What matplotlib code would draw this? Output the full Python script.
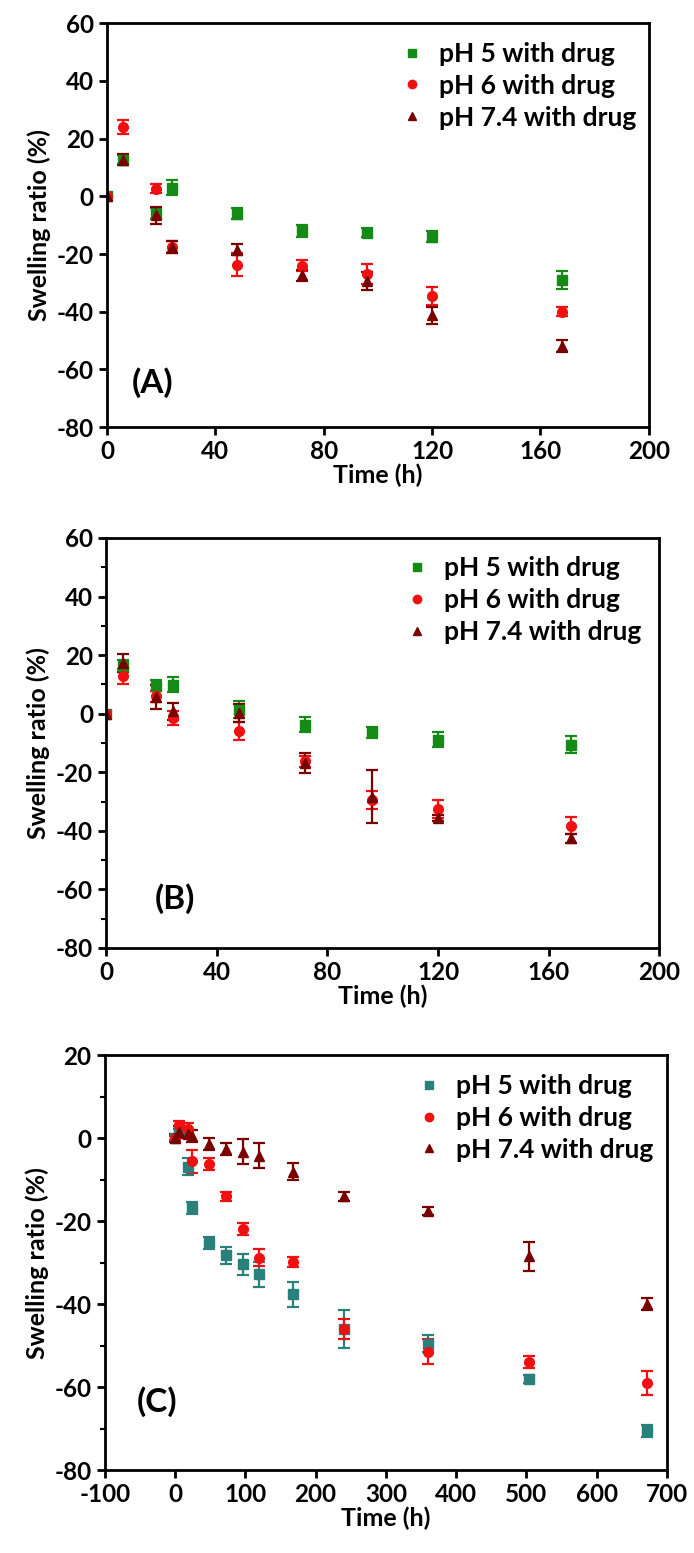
import matplotlib
matplotlib.use("Agg")
import matplotlib.pyplot as plt
from matplotlib.lines import Line2D
from matplotlib.ticker import MultipleLocator

plt.rcParams['font.family'] = ['Lato', 'DejaVu Sans']
plt.rcParams['font.weight'] = 'bold'
plt.rcParams['axes.unicode_minus'] = False

labels = ["pH 5 with drug", "pH 6 with drug", "pH 7.4 with drug"]

# Panel A
t_a = [0, 6, 18, 24, 48, 72, 96, 120, 168]
a_ph5 = [0, 12.7, -6, 3, -6, -12, -12.6, -14, -29]
a_ph5_err = [0.5, 1.5, 2, 2.5, 2, 2, 1.5, 2, 3]
a_ph6 = [0, 24, 2.7, -17.5, -23.7, -24, -26.8, -34.6, -40]
a_ph6_err = [0.5, 2.5, 1.5, 2, 4, 2, 3.5, 3, 1.5]
a_ph74 = [0, 12.7, -6.6, -17.5, -18.5, -27.4, -29.4, -41.2, -51.8]
a_ph74_err = [0.5, 2, 3, 2, 2, 2, 3, 3, 2]

# Panel B
t_b = [0, 6, 18, 24, 48, 72, 96, 120, 168]
b_ph5 = [0, 16.2, 9.6, 9.9, 1.4, -3.8, -6.4, -8.9, -10.6]
b_ph5_err = [0.5, 2, 2, 2.5, 3, 2.5, 2, 2.5, 3]
b_ph6 = [0, 12.8, 5.9, -1.5, -6, -16.3, -29.4, -32.5, -38.2]
b_ph6_err = [0.5, 2.5, 2, 2.5, 3, 2, 3, 3, 3]
b_ph74 = [0, 17.3, 5.7, 0.8, 0.2, -16.9, -28.3, -35.7, -42.5]
b_ph74_err = [0.5, 3, 4, 3, 3, 3.5, 9, 1, 1.5]

# Panel C
t_c = [0, 6, 18, 24, 48, 72, 96, 120, 168, 240, 360, 504, 672]
c_ph5 = [0, 2, -6.8, -16.8, -25.2, -28.2, -30.4, -32.8, -37.6, -46, -49.5, -58, -70.6]
c_ph5_err = [0.5, 1, 2, 1.5, 1.5, 2, 2.5, 3, 3, 4.5, 2, 1, 1.5]
c_ph6 = [0, 3.2, 2.2, -5.5, -6.2, -14, -21.8, -28.8, -29.8, -46, -51.5, -54, -59]
c_ph6_err = [0.5, 1, 1.5, 2.8, 1.5, 1, 1.5, 2, 1.2, 2.5, 3, 1.5, 3]
c_ph74 = [0, 1.5, 1, 0.5, -1.4, -2.6, -3.2, -4.2, -8, -14, -17.5, -28.4, -40]
c_ph74_err = [1, 1.5, 1, 1.5, 1.5, 1.5, 3, 3, 2, 1, 1, 3.5, 1.5]

green = '#168a16'
teal = '#2a807a'
red = '#f01010'
dark = '#7a0000'


def draw_panel(ax, t, series, errs, colors, xlim, xticks, ylim, yticks, minor, tag, tag_xy, leg_x):
    markers = ['s', 'o', '^']
    handles = []
    for y, e, c, m, lab in zip(series, errs, colors, markers, labels):
        ax.errorbar(t, y, yerr=e, fmt=m, color=c, ecolor=c, markersize=7,
                    elinewidth=1.6, capsize=4.5, capthick=1.6)
        handles.append(Line2D([], [], linestyle='none', marker=m, color=c, markersize=6, label=lab))
    ax.set_xlim(xlim)
    ax.set_ylim(ylim)
    ax.set_xticks(xticks)
    ax.set_yticks(yticks)
    if minor:
        ax.yaxis.set_minor_locator(MultipleLocator(10))
    ax.tick_params(which='major', direction='out', length=6, width=2, labelsize=17.5)
    ax.tick_params(which='minor', direction='out', length=3.5, width=1.5)
    for s in ax.spines.values():
        s.set_linewidth(2)
    ax.set_xlabel("Time (h)", fontsize=18, fontweight='bold', labelpad=0)
    ax.set_ylabel("Swelling ratio (%)", fontsize=18, fontweight='bold', labelpad=4)
    ax.text(tag_xy[0], tag_xy[1], tag, fontsize=24, fontweight='bold', ha='center', va='center')
    ax.legend(handles=handles, loc='upper left', bbox_to_anchor=(leg_x, 1.0), frameon=False,
              fontsize=19, handlelength=0.6, handletextpad=0.7, labelspacing=0.3,
              borderaxespad=0.3)


fig = plt.figure(figsize=(6.94, 15.53), dpi=100)
ax_a = fig.add_axes([0.154, 0.725, 0.781, 0.260])
ax_b = fig.add_axes([0.153, 0.3896, 0.797, 0.264])
ax_c = fig.add_axes([0.151, 0.0534, 0.810, 0.267])

draw_panel(ax_a, t_a, [a_ph5, a_ph6, a_ph74], [a_ph5_err, a_ph6_err, a_ph74_err],
           [green, red, dark], (0, 200), range(0, 201, 40), (-80, 60), range(-80, 61, 20),
           False, "(A)", (17, -64.5), 0.515)
draw_panel(ax_b, t_b, [b_ph5, b_ph6, b_ph74], [b_ph5_err, b_ph6_err, b_ph74_err],
           [green, red, dark], (0, 200), range(0, 201, 40), (-80, 60), range(-80, 61, 20),
           True, "(B)", (25, -63), 0.515)
draw_panel(ax_c, t_c, [c_ph5, c_ph6, c_ph74], [c_ph5_err, c_ph6_err, c_ph74_err],
           [teal, red, dark], (-100, 700), range(-100, 701, 100), (-80, 20), range(-80, 21, 20),
           True, "(C)", (-25, -63.6), 0.53)

fig.savefig("out.png", dpi=100)
